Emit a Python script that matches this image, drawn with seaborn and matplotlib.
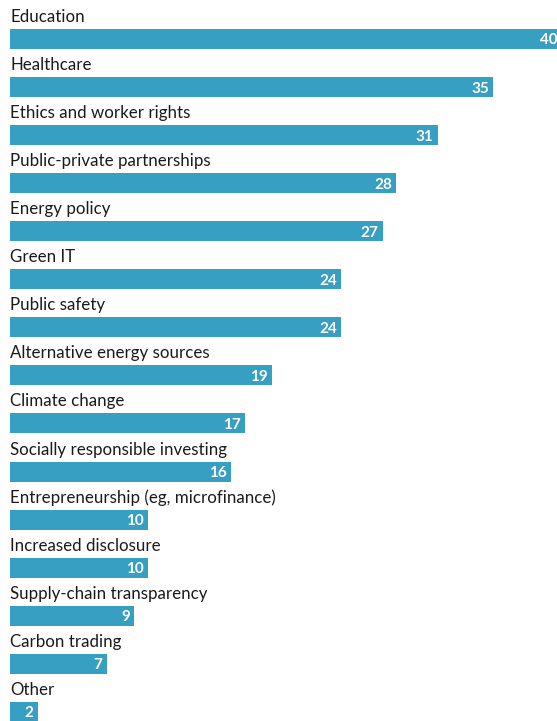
import matplotlib
matplotlib.use("Agg")
import matplotlib.pyplot as plt
import seaborn as sns
import pandas as pd

categories = [
    "Education", "Healthcare", "Ethics and worker rights",
    "Public-private partnerships", "Energy policy", "Green IT",
    "Public safety", "Alternative energy sources", "Climate change",
    "Socially responsible investing", "Entrepreneurship (eg, microfinance)",
    "Increased disclosure", "Supply-chain transparency", "Carbon trading",
    "Other",
]
values = [40, 35, 31, 28, 27, 24, 24, 19, 17, 16, 10, 10, 9, 7, 2]

df = pd.DataFrame({"category": categories, "value": values})

sns.set_theme(style="white")
plt.rcParams["font.family"] = ["Lato", "DejaVu Sans"]

fig = plt.figure(figsize=(5.57, 7.21), dpi=100)
ax = fig.add_axes([0, 0, 1, 1])

bar_color = "#379fc1"
sns.barplot(data=df, x="value", y="category", orient="h", color=bar_color,
            width=0.416, saturation=1, ax=ax, edgecolor="none")

ax.set_xlim(-0.725, 39.64)
ax.set_ylim(14.19, -0.811)
ax.axis("off")

for i, (cat, val) in enumerate(zip(categories, values)):
    ax.text(0, i - 0.354, cat, ha="left", va="baseline",
            fontsize=12.2, color="#1a1a1a")
    ax.text(val - 0.3, i, str(val), ha="right", va="center_baseline",
            fontsize=11, fontweight="bold", color="white")

fig.savefig("out.png", dpi=100)
